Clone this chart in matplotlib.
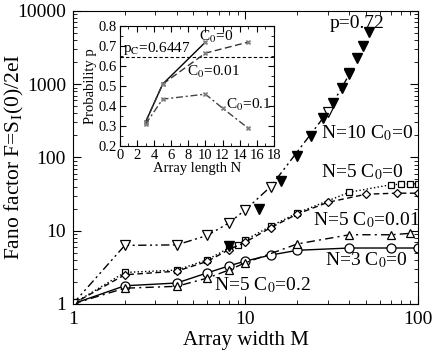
import numpy as np
import matplotlib
matplotlib.use('Agg')
import matplotlib.pyplot as plt
from matplotlib.ticker import FuncFormatter, LogLocator, MultipleLocator

plt.rcParams['font.family'] = ['Liberation Serif', 'DejaVu Serif']
plt.rcParams['mathtext.fontset'] = 'stix'

# main panel data: Fano factor vs array width M
M_n3 = [1, 2, 4, 6, 8, 10, 14, 20, 40, 70, 100]
F_n3 = [1, 1.77, 1.93, 2.65, 3.3, 3.85, 4.65, 5.4, 5.8, 5.8, 5.8]

M_c02 = [1, 2, 4, 6, 8, 10, 20, 40, 70, 90]
F_c02 = [1, 1.64, 1.74, 2.25, 2.9, 3.65, 6.6, 8.8, 8.8, 9.2]

M_n5 = [1, 2, 4, 6, 8, 9, 10, 14, 20, 40, 70, 80, 90, 100]
F_n5 = [1, 2.69, 2.9, 4.0, 5.8, 6.4, 7.5, 11.5, 17.5, 33.5, 42.5, 43, 43.5, 43.6]

M_c001 = [1, 2, 4, 6, 8, 10, 14, 20, 30, 50, 75, 100]
F_c001 = [1, 2.5, 2.8, 3.8, 5.5, 7.0, 11, 16.9, 24.4, 31.5, 32.5, 32.5]

M_n10 = [1, 2, 4, 6, 8, 10, 14, 30, 40]
F_n10 = [1, 6.3, 6.4, 8.6, 12.7, 19.3, 40, 420, 1370]

M_p72 = [8, 12, 16, 20, 24, 28, 32, 36, 40, 44, 48, 52]
F_p72 = [6.1, 20, 47, 104, 195, 342, 561, 900, 1400, 2250, 3350, 5100]

# inset data: probability p vs array length N
N_c0 = [3, 5, 10]
p_c0 = [0.32, 0.51, 0.72]
N_c001 = [3, 5, 10, 15]
p_c001 = [0.32, 0.51, 0.665, 0.72]
N_c01 = [3, 5, 10, 12, 15]
p_c01 = [0.31, 0.435, 0.46, 0.39, 0.29]
p_crit = 0.6447

fig = plt.figure(figsize=(4.36, 3.53), dpi=100)
ax = fig.add_axes([0.167, 0.139, 0.792, 0.830])

mk = dict(mfc='white', mec='black', mew=0.9, color='black', lw=1.0)
ax.plot(M_n3, F_n3, '-', marker='o', ms=6.5, **mk)
ax.plot(M_c02, F_c02, ls=(0, (6, 3, 1.5, 3)), marker='^', ms=6, **mk)
ax.plot(M_n5, F_n5, ls=':', marker='s', ms=4.5, **mk)
ax.plot(M_c001, F_c001, ls=(0, (4, 2.5)), marker='D', ms=4, **mk)
ax.plot(M_n10, F_n10, ls=(0, (6, 2.5, 1.5, 2.5, 1.5, 2.5)), marker='v', ms=6.5, **mk)
ax.plot(M_p72, F_p72, ls='none', marker='v', ms=6.5, color='black')

ax.set_xscale('log')
ax.set_yscale('log')
ax.set_xlim(1, 100)
ax.set_ylim(1, 10000)
fmt = FuncFormatter(lambda v, p: f'{v:g}')
ax.xaxis.set_major_formatter(fmt)
ax.yaxis.set_major_formatter(fmt)
ax.yaxis.set_major_locator(LogLocator(base=10, numticks=10))
ax.yaxis.set_minor_locator(LogLocator(base=10, subs=np.arange(2, 10), numticks=10))
ax.tick_params(which='both', direction='in', top=True, right=True, labelsize=14)
ax.tick_params(which='major', length=6, pad=5)
ax.tick_params(which='minor', length=3)
ax.set_xlabel('Array width M', fontsize=15, labelpad=2)
ax.set_ylabel(r'Fano factor F=S$_\mathrm{I}$(0)/2eI', fontsize=15.5)
ax.yaxis.set_label_coords(-0.135, 0.5)

ann = [(357, 24, 'p=0.72'),
       (367, 133, r'N=10 C$_0$=0'),
       (362, 172, r'N=5 C$_0$=0'),
       (366, 220, r'N=5 C$_0$=0.01'),
       (366, 260, r'N=3 C$_0$=0'),
       (263, 285, r'N=5 C$_0$=0.2')]
for px, py, s in ann:
    ax.annotate(s, xy=(px / 436, 1 - py / 353), xycoords='figure fraction',
                fontsize=14, ha='center', va='center')

# inset
ins = fig.add_axes([0.275, 0.586, 0.353, 0.340])
eb = dict(yerr=0.006, capsize=1.5, ecolor='gray', marker='x', ms=2.5, mec='gray')
ins.errorbar(N_c0, p_c0, ls='-', color='black', lw=1.0, **eb)
ins.errorbar(N_c001, p_c001, ls=(0, (5, 2.5)), color='#333333', lw=1.0, **eb)
ins.errorbar(N_c01, p_c01, ls=(0, (5, 2, 1.5, 2)), color='#444444', lw=1.0, **eb)
ins.axhline(p_crit, ls=(0, (3, 2)), color='black', lw=0.8)
ins.set_xlim(0, 18)
ins.set_ylim(0.2, 0.8)
ins.xaxis.set_major_locator(MultipleLocator(2))
ins.xaxis.set_minor_locator(MultipleLocator(1))
ins.yaxis.set_major_locator(MultipleLocator(0.1))
ins.yaxis.set_minor_locator(MultipleLocator(0.05))
ins.tick_params(which='both', direction='in', top=True, right=True, labelsize=10.5, pad=2)
ins.tick_params(which='major', length=4)
ins.tick_params(which='minor', length=2)
ins.set_xlabel('Array length N', fontsize=10.5, labelpad=0)
ins.set_ylabel('Probability p', fontsize=10.5, labelpad=1)
ins.text(0.4, 0.69, r'p$_\mathrm{C}$=0.6447', fontsize=11, va='center')
ins.text(9.3, 0.747, r'C$_0$=0', fontsize=11, va='center')
ins.text(7.8, 0.57, r'C$_0$=0.01', fontsize=11, va='center')
ins.text(12.4, 0.405, r'C$_0$=0.1', fontsize=11, va='center')

fig.savefig('out.png', dpi=100)
